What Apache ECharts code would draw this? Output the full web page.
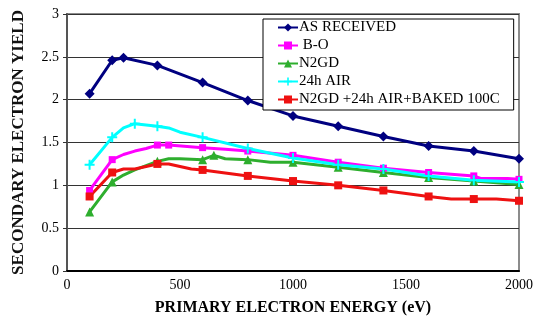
<!DOCTYPE html>
<html>
<head>
<meta charset="utf-8">
<script src="https://cdn.jsdelivr.net/npm/echarts@6/dist/echarts.min.js"></script>
<style>
  html, body { margin: 0; padding: 0; background: #fff; }
  #chart { width: 538px; height: 321px; }
</style>
</head>
<body>
<div id="chart"></div>
<script>
// Secondary electron yield vs. primary electron energy for several surface treatments

const seriesNames = ['AS RECEIVED', ' B-O', 'N2GD', '24h AIR', 'N2GD +24h AIR+BAKED 100C'];

const asReceivedEnergy = [100, 200, 250, 400, 600, 800, 1000, 1200, 1400, 1600, 1800, 2000];
const asReceivedYield  = [2.07, 2.46, 2.49, 2.40, 2.20, 1.99, 1.81, 1.69, 1.57, 1.46, 1.40, 1.31];
const asReceivedMarked = [100, 200, 250, 400, 600, 800, 1000, 1200, 1400, 1600, 1800, 2000];

const boEnergy = [100, 200, 250, 300, 350, 400, 450, 600, 700, 800, 1000, 1200, 1400, 1600, 1800, 1830, 1950, 2000];
const boYield  = [0.94, 1.30, 1.36, 1.40, 1.43, 1.47, 1.47, 1.44, 1.42, 1.40, 1.35, 1.27, 1.20, 1.15, 1.11, 1.08, 1.08, 1.07];
const boMarked = [100, 200, 400, 450, 600, 800, 1000, 1200, 1400, 1600, 1800, 2000];

const n2gdEnergy = [100, 200, 250, 300, 400, 450, 500, 600, 650, 700, 800, 900, 1000, 1200, 1400, 1600, 1800, 2000];
const n2gdYield  = [0.69, 1.04, 1.12, 1.18, 1.28, 1.31, 1.31, 1.30, 1.35, 1.31, 1.30, 1.27, 1.27, 1.21, 1.15, 1.09, 1.05, 1.01];
const n2gdMarked = [100, 200, 400, 600, 650, 800, 1000, 1200, 1400, 1600, 1800, 2000];

const airEnergy = [100, 200, 250, 300, 400, 450, 500, 600, 800, 1000, 1200, 1400, 1600, 1800, 2000];
const airYield  = [1.24, 1.56, 1.67, 1.72, 1.69, 1.67, 1.62, 1.56, 1.43, 1.32, 1.24, 1.19, 1.11, 1.06, 1.04];
const airMarked = [100, 200, 300, 400, 600, 800, 1000, 1200, 1400, 1600, 1800, 2000];

const bakedEnergy = [100, 200, 250, 300, 400, 450, 550, 600, 800, 1000, 1200, 1400, 1600, 1700, 1800, 1900, 2000];
const bakedYield  = [0.87, 1.15, 1.19, 1.19, 1.25, 1.25, 1.19, 1.18, 1.11, 1.05, 1.00, 0.94, 0.87, 0.84, 0.84, 0.84, 0.82];
const bakedMarked = [100, 200, 400, 600, 800, 1000, 1200, 1400, 1600, 1800, 2000];

const xTicks = { min: 0, max: 2000, interval: 500 };
const yTicks = { min: 0, max: 3, interval: 0.5 };

const serif = '"Liberation Serif", "Times New Roman", serif';

function points(energy, yieldVals, marked) {
  return energy.map((e, i) => {
    const item = { value: [e, yieldVals[i]] };
    if (marked.indexOf(e) < 0) item.symbol = 'none';
    return item;
  });
}

const plusStar = 'path://M4,0H6V4H10V6H6V10H4V6H0V4H4Z';

function lineSeries(name, color, symbol, size, data) {
  return {
    name: name,
    type: 'line',
    data: data,
    symbol: symbol,
    symbolSize: size,
    showAllSymbol: true,
    lineStyle: { color: color, width: 3 },
    itemStyle: { color: color, borderWidth: 0 },
    emphasis: { disabled: true },
    animation: false
  };
}

const chart = echarts.init(document.getElementById('chart'), null, { renderer: 'canvas' });

chart.setOption({
  backgroundColor: '#ffffff',
  animation: false,
  grid: {
    left: 67, top: 14, width: 452, height: 272,
    show: true, borderColor: '#8c8c8c', borderWidth: 2, backgroundColor: 'transparent'
  },
  legend: {
    orient: 'vertical',
    left: 263, top: 19,
    padding: [1, 14, 3, 14],
    itemGap: 3,
    itemWidth: 20, itemHeight: 10,
    backgroundColor: '#fff',
    borderColor: '#000', borderWidth: 1,
    textStyle: { fontFamily: serif, fontSize: 15, color: '#000', padding: [0, 0, 0, -4] },
    data: seriesNames
  },
  xAxis: {
    type: 'value',
    min: xTicks.min, max: xTicks.max, interval: xTicks.interval,
    name: 'PRIMARY ELECTRON ENERGY (eV)',
    nameLocation: 'middle', nameGap: 29,
    nameTextStyle: { fontFamily: serif, fontSize: 16, fontWeight: 'bold', color: '#000' },
    axisLine: { show: true, onZero: false, lineStyle: { color: '#000', width: 2 } },
    axisTick: { show: false },
    axisLabel: { fontFamily: serif, fontSize: 14, color: '#000', margin: 7, formatter: v => String(v) },
    splitLine: { show: false }
  },
  yAxis: {
    type: 'value',
    min: yTicks.min, max: yTicks.max, interval: yTicks.interval,
    name: 'SECONDARY ELECTRON YIELD',
    nameLocation: 'middle', nameGap: 40,
    nameTextStyle: {
      fontFamily: serif, fontSize: 17, fontWeight: 'bold', color: '#111',
      textShadowColor: '#9a9a9a', textShadowOffsetX: 1.5, textShadowOffsetY: 1.5, textShadowBlur: 0
    },
    axisLine: { show: true, lineStyle: { color: '#555', width: 2 } },
    axisTick: { show: true, inside: false, length: 4, lineStyle: { color: '#333', width: 1 } },
    axisLabel: { fontFamily: serif, fontSize: 14, color: '#000', margin: 8, formatter: v => String(v) },
    splitLine: { show: true, lineStyle: { color: '#333', width: 1 } }
  },
  series: [
    lineSeries(seriesNames[0], '#000080', 'diamond', 10, points(asReceivedEnergy, asReceivedYield, asReceivedMarked)),
    lineSeries(seriesNames[1], '#ff00ff', 'rect', 7, points(boEnergy, boYield, boMarked)),
    lineSeries(seriesNames[2], '#2eae2e', 'triangle', 9, points(n2gdEnergy, n2gdYield, n2gdMarked)),
    lineSeries(seriesNames[3], '#00ffff', plusStar, 10, points(airEnergy, airYield, airMarked)),
    lineSeries(seriesNames[4], '#ee1111', 'rect', 8, points(bakedEnergy, bakedYield, bakedMarked))
  ]
});
</script>
</body>
</html>
